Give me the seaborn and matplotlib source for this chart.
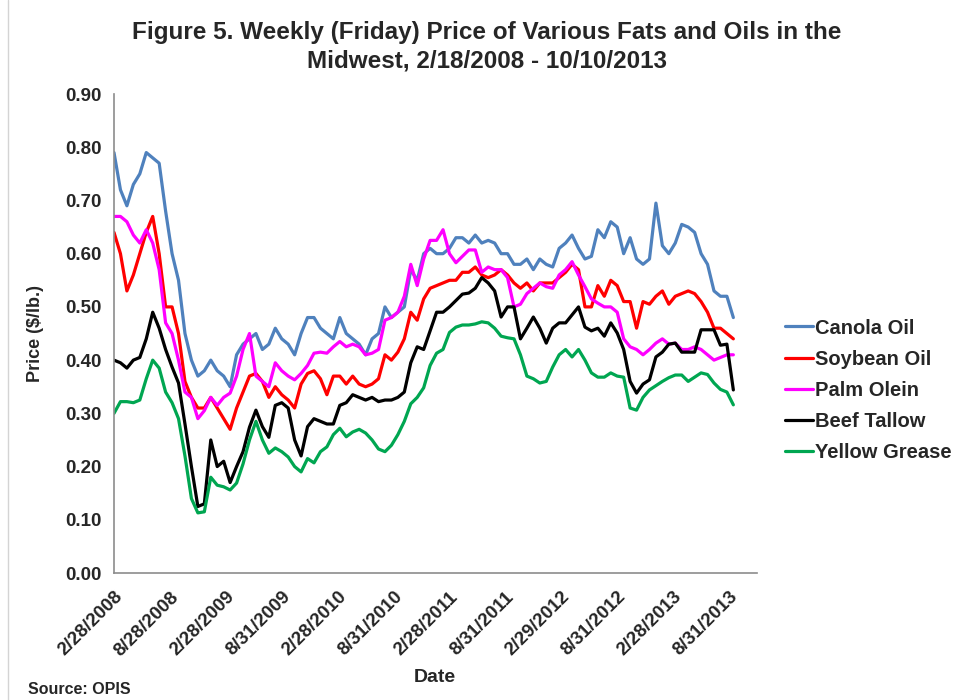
import numpy as np
import pandas as pd
import matplotlib
matplotlib.use("Agg")
import matplotlib.pyplot as plt
import seaborn as sns
from matplotlib.lines import Line2D
from matplotlib.ticker import FormatStrFormatter

# ===============================
# DATA  (price in $/lb, read every 3rd Friday from 2/22/2008)
# ===============================
weeks = np.arange(0, 289, 3)

canola = [0.79, 0.72, 0.69, 0.73, 0.75, 0.79, 0.78, 0.77, 0.68, 0.60,
          0.55, 0.45, 0.40, 0.37, 0.38, 0.40, 0.38, 0.37, 0.35, 0.41,
          0.43, 0.44, 0.45, 0.42, 0.43, 0.46, 0.44, 0.43, 0.41, 0.45,
          0.48, 0.48, 0.46, 0.45, 0.44, 0.48, 0.45, 0.44, 0.43, 0.41,
          0.44, 0.45, 0.50, 0.48, 0.49, 0.50, 0.57, 0.55, 0.60, 0.61,
          0.60, 0.60, 0.61, 0.63, 0.63, 0.62, 0.635, 0.62, 0.625, 0.62,
          0.60, 0.60, 0.58, 0.58, 0.59, 0.57, 0.59, 0.58, 0.575, 0.61,
          0.62, 0.635, 0.61, 0.59, 0.595, 0.645, 0.63, 0.66, 0.65, 0.60,
          0.63, 0.59, 0.58, 0.59, 0.695, 0.615, 0.60, 0.62, 0.655, 0.65,
          0.64, 0.60, 0.58, 0.53, 0.52, 0.52, 0.48]

soybean = [0.64, 0.60, 0.53, 0.56, 0.60, 0.64, 0.67, 0.60, 0.50, 0.50,
           0.45, 0.36, 0.33, 0.31, 0.31, 0.33, 0.31, 0.29, 0.27, 0.31,
           0.34, 0.37, 0.375, 0.36, 0.33, 0.35, 0.335, 0.325, 0.31, 0.355,
           0.375, 0.38, 0.365, 0.335, 0.37, 0.37, 0.355, 0.37, 0.355, 0.35,
           0.355, 0.365, 0.41, 0.40, 0.415, 0.44, 0.49, 0.475, 0.515, 0.535,
           0.54, 0.545, 0.55, 0.55, 0.565, 0.565, 0.575, 0.56, 0.555, 0.56,
           0.57, 0.56, 0.545, 0.535, 0.545, 0.53, 0.545, 0.545, 0.545, 0.555,
           0.565, 0.58, 0.57, 0.50, 0.50, 0.54, 0.52, 0.55, 0.54, 0.51,
           0.51, 0.46, 0.51, 0.505, 0.52, 0.53, 0.505, 0.52, 0.525, 0.53,
           0.525, 0.51, 0.49, 0.46, 0.46, 0.45, 0.44]

palm_olein = [0.67, 0.67, 0.66, 0.635, 0.62, 0.645, 0.62, 0.57, 0.47, 0.45,
              0.40, 0.34, 0.33, 0.29, 0.305, 0.33, 0.315, 0.33, 0.338, 0.37,
              0.42, 0.45, 0.37, 0.36, 0.35, 0.395, 0.38, 0.37, 0.363, 0.375,
              0.39, 0.413, 0.415, 0.413, 0.425, 0.435, 0.425, 0.43, 0.425, 0.41,
              0.413, 0.42, 0.475, 0.48, 0.49, 0.52, 0.58, 0.54, 0.59, 0.625,
              0.625, 0.645, 0.60, 0.583, 0.595, 0.607, 0.607, 0.565, 0.575, 0.57,
              0.57, 0.555, 0.50, 0.505, 0.525, 0.535, 0.545, 0.538, 0.535, 0.56,
              0.57, 0.585, 0.56, 0.538, 0.515, 0.507, 0.50, 0.50, 0.49, 0.44,
              0.425, 0.42, 0.41, 0.42, 0.432, 0.44, 0.43, 0.432, 0.42, 0.42,
              0.425, 0.42, 0.41, 0.40, 0.405, 0.41, 0.41]

beef_tallow = [0.40, 0.395, 0.385, 0.40, 0.405, 0.44, 0.49, 0.46, 0.42, 0.387,
               0.357, 0.28, 0.20, 0.125, 0.13, 0.25, 0.20, 0.21, 0.17, 0.20,
               0.228, 0.274, 0.306, 0.275, 0.255, 0.315, 0.32, 0.31, 0.25, 0.22,
               0.275, 0.29, 0.285, 0.28, 0.28, 0.315, 0.32, 0.335, 0.33, 0.325,
               0.33, 0.322, 0.325, 0.325, 0.33, 0.34, 0.395, 0.425, 0.42, 0.455,
               0.49, 0.49, 0.50, 0.512, 0.524, 0.526, 0.535, 0.555, 0.545, 0.53,
               0.481, 0.50, 0.50, 0.44, 0.46, 0.481, 0.46, 0.432, 0.46, 0.47,
               0.47, 0.485, 0.50, 0.462, 0.455, 0.46, 0.445, 0.47, 0.451, 0.42,
               0.36, 0.338, 0.355, 0.363, 0.406, 0.415, 0.43, 0.432, 0.415, 0.415,
               0.415, 0.457, 0.457, 0.457, 0.428, 0.43, 0.344]

yellow_grease = [0.30, 0.322, 0.322, 0.32, 0.325, 0.365, 0.40, 0.385, 0.34, 0.32,
                 0.29, 0.22, 0.14, 0.113, 0.115, 0.18, 0.165, 0.162, 0.156, 0.169,
                 0.205, 0.25, 0.285, 0.25, 0.225, 0.235, 0.228, 0.218, 0.20, 0.19,
                 0.215, 0.207, 0.228, 0.237, 0.26, 0.272, 0.256, 0.265, 0.27, 0.263,
                 0.25, 0.233, 0.228, 0.24, 0.26, 0.285, 0.318, 0.33, 0.348, 0.39,
                 0.413, 0.42, 0.452, 0.462, 0.466, 0.466, 0.468, 0.472, 0.47, 0.46,
                 0.445, 0.442, 0.44, 0.41, 0.37, 0.365, 0.357, 0.36, 0.387, 0.41,
                 0.42, 0.406, 0.42, 0.40, 0.376, 0.368, 0.368, 0.376, 0.37, 0.368,
                 0.31, 0.306, 0.33, 0.344, 0.352, 0.36, 0.367, 0.372, 0.372, 0.36,
                 0.368, 0.376, 0.373, 0.357, 0.345, 0.34, 0.316]

tick_labels = ["2/28/2008", "8/28/2008", "2/28/2009", "8/31/2009", "2/28/2010",
               "8/31/2010", "2/28/2011", "8/31/2011", "2/29/2012", "8/31/2012",
               "2/28/2013", "8/31/2013"]

series = ["Canola Oil", "Soybean Oil", "Palm Olein", "Beef Tallow", "Yellow Grease"]
colors = ["#4F81BD", "#FF0000", "#FF00FF", "#000000", "#00A651"]

df = pd.DataFrame({
    "week": weeks,
    "Canola Oil": canola,
    "Soybean Oil": soybean,
    "Palm Olein": palm_olein,
    "Beef Tallow": beef_tallow,
    "Yellow Grease": yellow_grease,
}).melt(id_vars="week", var_name="series", value_name="price")

# ===============================
# PLOT
# ===============================
sns.set_style("white")
plt.rcParams["font.family"] = ["Liberation Sans", "DejaVu Sans"]
plt.rcParams["font.weight"] = "bold"

fig = plt.figure(figsize=(9.54, 7), dpi=100)
ax = fig.add_axes([0.1195, 0.1814, 0.674, 0.6843])

sns.lineplot(data=df, x="week", y="price", hue="series", hue_order=series,
             palette=colors, linewidth=2.3, ax=ax)

ax.set_xlim(0, 291)
ax.set_ylim(0, 0.9)
ax.set_yticks(np.arange(0, 0.91, 0.1))
ax.yaxis.set_major_formatter(FormatStrFormatter("%.2f"))

# tick every 13 weeks, label every 26
xt = np.arange(0, 26 * len(tick_labels) - 12, 13)
ax.set_xticks(xt)
ax.set_xticklabels([tick_labels[i // 2] if i % 2 == 0 else "" for i in range(len(xt))],
                   rotation=45, ha="right", rotation_mode="anchor")
ax.tick_params(axis="both", direction="out", length=5, width=1, color="#8c8c8c",
               labelsize=13.5, pad=4)
ax.tick_params(axis="x", pad=6)

for s in ["top", "right"]:
    ax.spines[s].set_visible(False)
for s in ["left", "bottom"]:
    ax.spines[s].set_color("#8c8c8c")
    ax.spines[s].set_linewidth(1.2)

ax.set_xlabel("")
ax.set_ylabel("")
fig.text(36 / 954, 1 - 333 / 700, "Price ($/lb.)", rotation=90, ha="center", va="center",
         fontsize=13)
fig.text(435 / 954, 1 - 678 / 700, "Date", ha="center", va="center", fontsize=14)
fig.text(28 / 954, 1 - 690 / 700, "Source: OPIS", ha="left", va="center", fontsize=11.5)

fig.text(487 / 954, 0.97,
         "Figure 5. Weekly (Friday) Price of Various Fats and Oils in the\n"
         "Midwest, 2/18/2008 - 10/10/2013",
         ha="center", va="top", fontsize=17.5, linespacing=1.3)

handles, labels = ax.get_legend_handles_labels()
ax.legend(handles, labels, loc="upper left", bbox_to_anchor=(0.823, 0.545),
          bbox_transform=fig.transFigure, frameon=False, fontsize=14.5,
          handlelength=1.4, handletextpad=0.1, labelspacing=0.6,
          borderpad=0, borderaxespad=0)

# thin frame line at the left edge of the chart area
fig.add_artist(Line2D([8 / 954, 8 / 954], [0, 1], transform=fig.transFigure,
                      color="#d4d4d4", linewidth=1))

fig.savefig("out.png", dpi=100)
